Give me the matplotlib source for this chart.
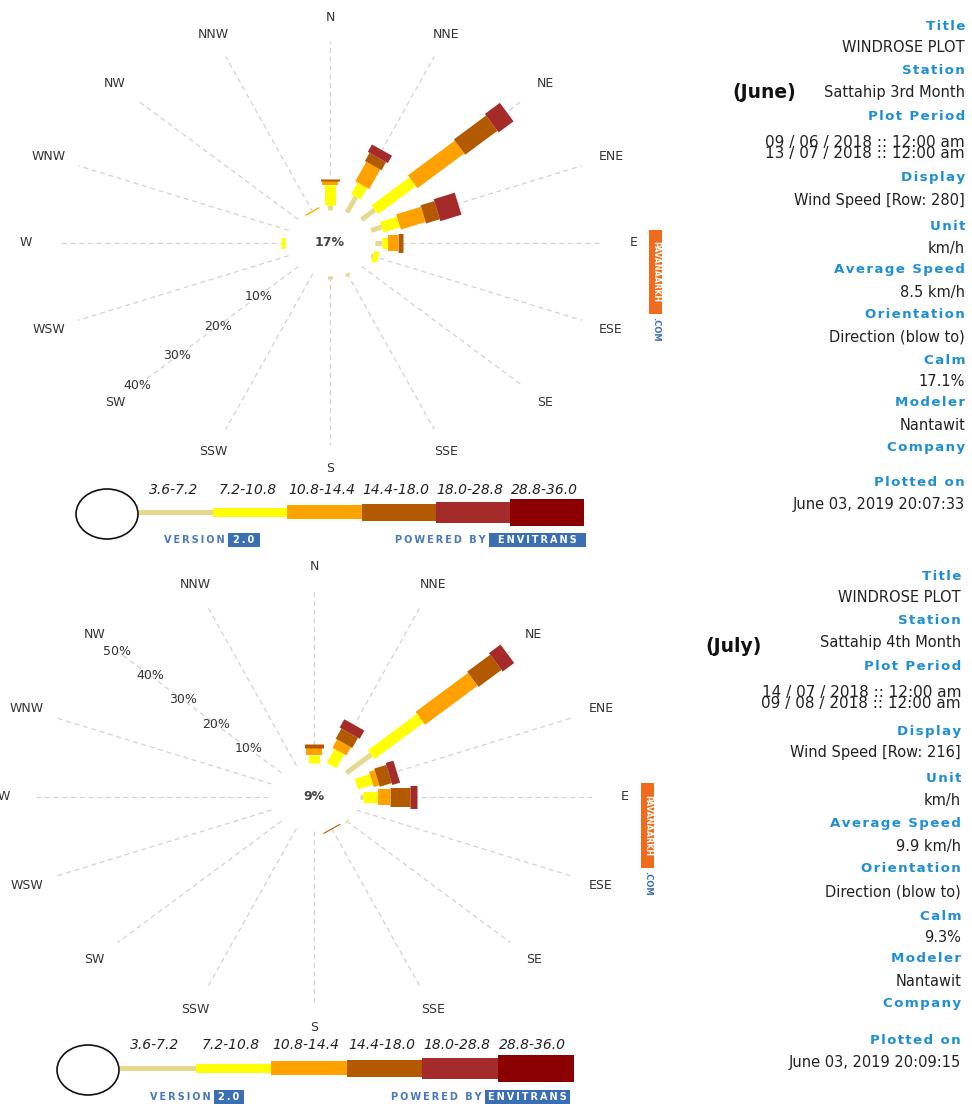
import numpy as np
import matplotlib
matplotlib.use("Agg")
import matplotlib.pyplot as plt
from matplotlib.patches import Ellipse, Rectangle

plt.rcParams["font.family"] = ["DejaVu Sans"]

# ---------------------------------------------------------------- data
DIRECTIONS = ["N", "NNE", "NE", "ENE", "E", "ESE", "SE", "SSE",
              "S", "SSW", "SW", "WSW", "W", "WNW", "NW", "NNW"]
SPEED_CLASSES = ["3.6-7.2", "7.2-10.8", "10.8-14.4",
                 "14.4-18.0", "18.0-28.8", "28.8-36.0"]

# June: frequency (%) of each speed class by direction (blow to)
june_3_6 = [1.2, 4.0, 3.3, 2.0, 1.3, 0.3, 0, 0.6, 0.8, 0, 0, 0, 0, 0, 0, 0]
june_7_2 = [4.7, 3.0, 9.4, 3.2, 1.1, 1.0, 0, 0, 0, 0, 0, 0, 0.7, 0, 0, 0.15]
june_10_8 = [0.9, 5.0, 11.6, 4.7, 1.7, 0, 0, 0, 0, 0, 0, 0, 0, 0, 0, 0.25]
june_14_4 = [0.5, 2.1, 8.0, 2.6, 0.9, 0, 0, 0, 0, 0, 0, 0, 0, 0, 0, 0]
june_18_0 = [0, 1.9, 3.7, 4.0, 0, 0, 0, 0, 0, 0, 0, 0, 0, 0, 0, 0]
june_28_8 = [0] * 16

# July
july_3_6 = [0, 0, 7.5, 0, 0.6, 0, 0.3, 0, 0, 0, 0, 0, 0, 0, 0, 0]
july_7_2 = [2.2, 4.4, 15.0, 3.5, 3.4, 0, 0, 0, 0, 0, 0, 0, 0, 0, 0, 0]
july_10_8 = [2.3, 2.6, 16.0, 1.3, 2.4, 0, 0, 0, 0, 0, 0, 0, 0, 0, 0, 0]
july_14_4 = [1.0, 3.2, 7.0, 2.8, 4.4, 0, 0, 0.3, 0, 0, 0, 0, 0, 0, 0, 0]
july_18_0 = [0, 2.6, 3.5, 1.8, 1.4, 0, 0, 0, 0, 0, 0, 0, 0, 0, 0, 0]
july_28_8 = [0] * 16

june_calm = 17.1
july_calm = 9.3
june_rings = [10, 20, 30, 40]
july_rings = [10, 20, 30, 40, 50]

june_info = [("Title", "WINDROSE PLOT"),
             ("Station", "Sattahip 3rd Month"),
             ("Plot Period", "09 / 06 / 2018 :: 12:00 am\n"
                             "13 / 07 / 2018 :: 12:00 am"),
             ("Display", "Wind Speed [Row: 280]"),
             ("Unit", "km/h"),
             ("Average Speed", "8.5 km/h"),
             ("Orientation", "Direction (blow to)"),
             ("Calm", "17.1%"),
             ("Modeler", "Nantawit"),
             ("Company", ""),
             ("Plotted on", "June 03, 2019 20:07:33")]
july_info = [("Title", "WINDROSE PLOT"),
             ("Station", "Sattahip 4th Month"),
             ("Plot Period", "14 / 07 / 2018 :: 12:00 am\n"
                             "09 / 08 / 2018 :: 12:00 am"),
             ("Display", "Wind Speed [Row: 216]"),
             ("Unit", "km/h"),
             ("Average Speed", "9.9 km/h"),
             ("Orientation", "Direction (blow to)"),
             ("Calm", "9.3%"),
             ("Modeler", "Nantawit"),
             ("Company", ""),
             ("Plotted on", "June 03, 2019 20:09:15")]

# ---------------------------------------------------------------- style
CLASS_COLORS = ["#e4d98f", "#ffff00", "#ffa200", "#b35a00", "#a52a2a", "#8b0000"]
BAR_PX = [5, 11, 16, 19, 23, 28]       # bar thickness in the roses
KEY_PX = [5, 9, 14, 17, 21, 27]        # bar thickness in the legend strip
BLUE = "#1f8fd3"
BRAND_BLUE = "#3b6fb4"
TEXT = "#222222"
GRID = "#d2d2d2"

W, H = 972, 1104
fig = plt.figure(figsize=(W / 100, H / 100), dpi=100)
fig.patch.set_facecolor("white")

# pixel-space layer for annotations, legend strips and the info column
ov = fig.add_axes([0, 0, 1, 1], zorder=0)
ov.set_xlim(0, W)
ov.set_ylim(H, 0)
ov.axis("off")

theta = np.deg2rad(np.arange(16) * 22.5)


def spaced(s, gap="\u200a"):
    return gap.join(s)


def draw_rose(cx, cy, radius, stretch, hole, rmax, label_r, layers, rings,
              ring_dir, calm):
    rx = radius * stretch
    ax = fig.add_axes([(cx - rx) / W, 1 - (cy + radius) / H,
                       2 * rx / W, 2 * radius / H],
                      projection="polar", zorder=2)
    ax.set_aspect("auto")
    ax.set_theta_zero_location("N")
    ax.set_theta_direction(-1)
    ax.set_ylim(0, rmax)
    frac = hole / radius
    ax.set_rorigin(-frac * rmax / (1 - frac))
    ax.patch.set_visible(False)
    for sp in ax.spines.values():
        sp.set_visible(False)
        sp.set_color("none")
        sp.set_linewidth(0)
    ax.set_xticks(theta)
    ax.set_xticklabels([])
    ax.set_yticks([])
    ax.tick_params(length=0)
    ax.xaxis.grid(True, color=GRID, lw=0.9, ls=(0, (4, 3)))
    ax.yaxis.grid(False)

    base = np.zeros(16)
    for vals, color, px in zip(layers, CLASS_COLORS, BAR_PX):
        vals = np.asarray(vals, dtype=float)
        for t, b, v in zip(theta, base, vals):
            if v > 0:
                ax.plot([t, t], [b, b + v], color=color, lw=px * 0.72,
                        solid_capstyle="butt", clip_on=False, zorder=3)
        base += vals

    for r in rings:
        ax.text(np.deg2rad(ring_dir), r, f"{r}%", ha="center", va="center",
                fontsize=9, color="#333333", zorder=4)

    for t, name in zip(theta, DIRECTIONS):
        ax.text(t, label_r, name, ha="center", va="center", fontsize=9,
                color="#333333", clip_on=False)

    ov.text(cx, cy, f"{calm:.0f}%", ha="center", va="center", fontsize=9,
            color="#444444", fontweight="bold")
    return ax


draw_rose(330, 243, 202, 1.35, 33, 40, 45.5,
          [june_3_6, june_7_2, june_10_8, june_14_4, june_18_0, june_28_8],
          june_rings, 225, june_calm)
draw_rose(314, 797, 206, 1.35, 34, 50, 57,
          [july_3_6, july_7_2, july_10_8, july_14_4, july_18_0, july_28_8],
          july_rings, 315, july_calm)


def draw_key(x0, yc, seg, lab_y, ver_y, ver_box, env_box):
    ov.add_patch(Ellipse((x0 - 32, yc + 2), 62, 50, fill=False,
                         ec="#111111", lw=1.2))
    for i, (c, px) in enumerate(zip(CLASS_COLORS, KEY_PX)):
        ov.add_patch(Rectangle((x0 + i * seg, yc - px / 2), seg, px,
                               fc=c, ec="none"))
        ov.text(x0 + (i + 0.5) * seg - 3, lab_y, SPEED_CLASSES[i],
                ha="center", va="center", fontsize=10, style="italic",
                color="#222222")
    # version / credits line
    bx0, bx1 = ver_box
    ov.add_patch(Rectangle((bx0, ver_y - 7), bx1 - bx0, 14, fc=BRAND_BLUE,
                           ec="none"))
    ov.text((bx0 + bx1) / 2, ver_y, spaced("2.0", "\u2009"), ha="center",
            va="center", fontsize=7, color="white", fontweight="bold")
    ov.text(bx0 - 3, ver_y, spaced("VERSION", "\u2009"), ha="right",
            va="center", fontsize=7, color="#4a78b8", fontweight="bold")
    ex0, ex1 = env_box
    ov.add_patch(Rectangle((ex0, ver_y - 7), ex1 - ex0, 14, fc=BRAND_BLUE,
                           ec="none"))
    ov.text((ex0 + ex1) / 2, ver_y, spaced("ENVITRANS", "\u2009"),
            ha="center", va="center", fontsize=7, color="white",
            fontweight="bold")
    ov.text(ex0 - 3, ver_y, spaced("POWERED BY", "\u2009"), ha="right",
            va="center", fontsize=7, color="#4a78b8", fontweight="bold")


draw_key(139, 512, 74.2, 490, 540, (228, 260), (489, 586))
draw_key(120, 1068, 75.6, 1045, 1097, (214, 244), (485, 570))


def draw_brand(x, y0, y1):
    ov.add_patch(Rectangle((x, y0), 13, y1 - y0, fc="#f26b1d", ec="none"))
    ov.text(x + 6.5, (y0 + y1) / 2, "PAVANAARKH", rotation=-90, ha="center",
            va="center", fontsize=5.8, color="white", fontweight="bold")
    ov.text(x + 6.5, y1 + 15, ".COM", rotation=-90, ha="center",
            va="center", fontsize=6, color=BRAND_BLUE, fontweight="bold")


draw_brand(649, 230, 314)
draw_brand(641, 783, 868)


def draw_info(xr, rows, ys):
    for (lab, val), (ly, vy) in zip(rows, ys):
        ov.text(xr, ly, spaced(lab), ha="right", va="center", fontsize=9.6,
                color=BLUE, fontweight="bold")
        if "\n" in val:
            ov.text(xr, vy, val, ha="right", va="center", fontsize=11,
                    color=TEXT, linespacing=0.74)
        elif val:
            ov.text(xr, vy, val, ha="right", va="center", fontsize=10.5,
                    color=TEXT)


june_rows_y = [(27, 47), (71, 93), (117, 148), (178, 201), (226, 249),
               (269, 293), (314, 337), (360, 382), (403, 425), (447, 0),
               (483, 505)]
july_rows_y = [(576, 597), (621, 643), (667, 698), (731, 753), (778, 800),
               (823, 847), (869, 892), (916, 937), (959, 982), (1003, 0),
               (1041, 1063)]
draw_info(965, june_info, june_rows_y)
draw_info(961, july_info, july_rows_y)

ov.text(764, 93, "(June)", ha="center", va="center", fontsize=13.5,
        fontweight="bold", color="#111111")
ov.text(734, 647, "(July)", ha="center", va="center", fontsize=13.5,
        fontweight="bold", color="#111111")

fig.savefig("out.png", dpi=100, facecolor="white")
